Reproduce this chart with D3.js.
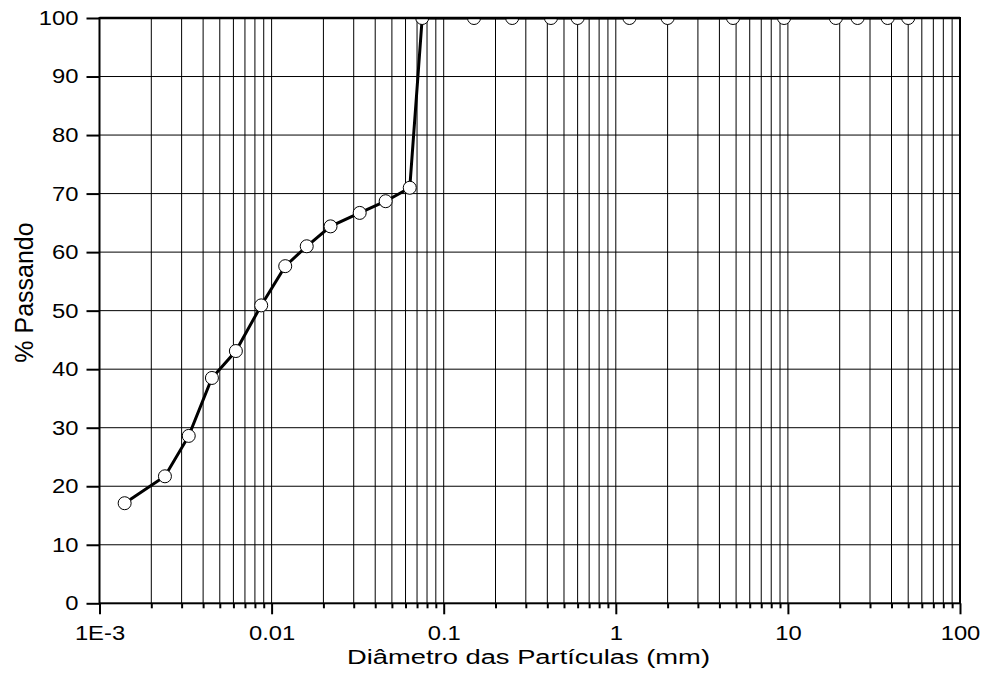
<!DOCTYPE html>
<html>
<head>
<meta charset="utf-8">
<script src="https://cdn.jsdelivr.net/npm/d3@7"></script>
<style>
  html, body { margin: 0; padding: 0; background: #fff; }
  svg { display: block; }
  text { font-family: "Liberation Sans", Arial, sans-serif; fill: #000; }
</style>
</head>
<body>
<svg id="chart" width="984" height="673"></svg>
<script>
// Data: particle diameter (mm) and % passing
const diameters = [0.0014, 0.0024, 0.0033, 0.0045, 0.0062, 0.0087, 0.012, 0.016, 0.022, 0.0325, 0.046, 0.0635,
                   0.075, 0.15, 0.25, 0.42, 0.6, 1.2, 2.0, 4.8, 9.5, 19, 25.4, 38, 50];
const passing   = [17.1, 21.7, 28.6, 38.5, 43.1, 50.9, 57.6, 61.0, 64.4, 66.7, 68.7, 71.0,
                   100, 100, 100, 100, 100, 100, 100, 100, 100, 100, 100, 100, 100];
const xTickValues = [0.001, 0.01, 0.1, 1, 10, 100];
const xTickLabels = ["1E-3", "0.01", "0.1", "1", "10", "100"];
const yTickValues = [0, 10, 20, 30, 40, 50, 60, 70, 80, 90, 100];
const xTitle = "Diâmetro das Partículas (mm)";
const yTitle = "% Passando";

const svg = d3.select("#chart");
const L = 99.5, R = 960, T = 18, B = 603.3;

const x = d3.scaleLog().domain([0.001, 100]).range([L, R]);
const y = d3.scaleLinear().domain([0, 100]).range([B, T]);

// widen glyphs horizontally like the reference
function stretch(sel, factor) {
  sel.each(function () {
    const w = this.getComputedTextLength();
    if (w > 0) {
      d3.select(this).attr("textLength", w * factor).attr("lengthAdjust", "spacingAndGlyphs");
    }
  });
}

// minor values (1..9 per decade)
const minorVals = [];
for (let e = -3; e < 2; e++) {
  for (let m = 1; m <= 9; m++) minorVals.push(m * Math.pow(10, e));
}
minorVals.push(100);

// vertical grid
svg.append("g").selectAll("line").data(minorVals.filter(v => v > 0.0011 && v < 99)).join("line")
  .attr("x1", d => x(d)).attr("x2", d => x(d))
  .attr("y1", T).attr("y2", B)
  .attr("stroke", "#000").attr("stroke-width", 1);

// horizontal grid
svg.append("g").selectAll("line").data(yTickValues.filter(v => v > 0 && v < 100)).join("line")
  .attr("x1", L).attr("x2", R)
  .attr("y1", d => y(d)).attr("y2", d => y(d))
  .attr("stroke", "#000").attr("stroke-width", 1);

// Y axis
const yAxis = d3.axisLeft(y).tickValues(yTickValues).tickSize(13).tickPadding(8).tickFormat(d3.format("d"));
const gy = svg.append("g").attr("transform", `translate(${L},0)`).call(yAxis);
gy.select(".domain").remove();
gy.selectAll(".tick line").attr("stroke", "#000").attr("stroke-width", 2);
gy.selectAll(".tick text").style("font-size", "19.5px").style("font-family", "Liberation Sans, Arial, sans-serif").attr("dy", "0.33em");
stretch(gy.selectAll(".tick text"), 1.22);

// X axis: major ticks
const xAxisMajor = d3.axisBottom(x).tickValues(xTickValues).tickSize(11).tickPadding(12)
  .tickFormat((d, i) => xTickLabels[i]);
const gx = svg.append("g").attr("transform", `translate(0,${B})`).call(xAxisMajor);
gx.select(".domain").remove();
gx.selectAll(".tick line").attr("stroke", "#000").attr("stroke-width", 2);
gx.selectAll(".tick text").style("font-size", "19.5px").style("font-family", "Liberation Sans, Arial, sans-serif");
stretch(gx.selectAll(".tick text"), 1.22);

// X axis: minor ticks
const minorTicks = minorVals.filter(v => Math.abs(Math.log10(v) - Math.round(Math.log10(v))) > 1e-9);
const xAxisMinor = d3.axisBottom(x).tickValues(minorTicks).tickSize(5).tickFormat("");
const gxm = svg.append("g").attr("transform", `translate(0,${B})`).call(xAxisMinor);
gxm.select(".domain").remove();
gxm.selectAll(".tick line").attr("stroke", "#000").attr("stroke-width", 2);

// Frame
svg.append("rect").attr("x", L).attr("y", T).attr("width", R - L).attr("height", B - T)
  .attr("fill", "none").attr("stroke", "#000").attr("stroke-width", 2);

// Clip for data
svg.append("defs").append("clipPath").attr("id", "plotclip")
  .append("rect").attr("x", L).attr("y", T).attr("width", R - L).attr("height", B - T);

const pts = diameters.map((d, i) => ({ d, p: passing[i] }));
const gData = svg.append("g").attr("clip-path", "url(#plotclip)");
gData.append("path").datum(pts)
  .attr("d", d3.line().x(p => x(p.d)).y(p => y(p.p)))
  .attr("fill", "none").attr("stroke", "#000").attr("stroke-width", 3);
gData.selectAll("circle").data(pts).join("circle")
  .attr("cx", p => x(p.d)).attr("cy", p => y(p.p)).attr("r", 6.5)
  .attr("fill", "#fff").attr("stroke", "#000").attr("stroke-width", 1);

// redraw top border over clipped markers
svg.append("line").attr("x1", L).attr("x2", R).attr("y1", T).attr("y2", T)
  .attr("stroke", "#000").attr("stroke-width", 2.5);

// Titles
const xt = svg.append("text").attr("x", 528.5).attr("y", 664).attr("text-anchor", "middle")
  .style("font-size", "20px").text(xTitle);
xt.attr("textLength", 363).attr("lengthAdjust", "spacingAndGlyphs");
svg.append("text").attr("transform", "translate(33,292.5) rotate(-90)").attr("text-anchor", "middle")
  .style("font-size", "25px").text(yTitle);
</script>
</body>
</html>
